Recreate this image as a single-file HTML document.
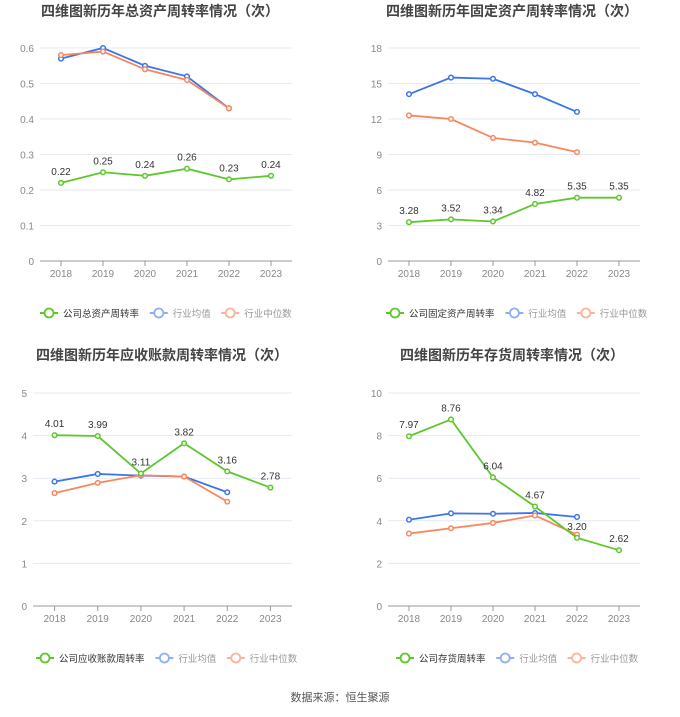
<!DOCTYPE html>
<html><head><meta charset="utf-8"><style>
body{margin:0;background:#fff;width:680px;height:712px;overflow:hidden;font-family:"Liberation Sans","Noto Sans CJK SC",sans-serif}
svg text{font-family:"Liberation Sans","Noto Sans CJK SC",sans-serif}
</style></head><body>
<svg id="s" width="680" height="712"></svg>
<script>
const years=['2018','2019','2020','2021','2022','2023'];
const c1Company=[0.22,0.25,0.24,0.26,0.23,0.24];
const c1Avg=[0.57,0.60,0.55,0.52,0.43];
const c1Med=[0.58,0.59,0.54,0.51,0.43];
const c1Ticks=[0,0.1,0.2,0.3,0.4,0.5,0.6];
const c2Company=[3.28,3.52,3.34,4.82,5.35,5.35];
const c2Avg=[14.1,15.5,15.4,14.1,12.6];
const c2Med=[12.3,12.0,10.4,10.0,9.2];
const c2Ticks=[0,3,6,9,12,15,18];
const c3Company=[4.01,3.99,3.11,3.82,3.16,2.78];
const c3Avg=[2.92,3.10,3.06,3.04,2.67];
const c3Med=[2.65,2.89,3.07,3.04,2.45];
const c3Ticks=[0,1,2,3,4,5];
const c4Company=[7.97,8.76,6.04,4.67,3.20,2.62];
const c4Avg=[4.05,4.35,4.33,4.37,4.18];
const c4Med=[3.40,3.65,3.90,4.25,3.35];
const c4Ticks=[0,2,4,6,8,10];

const NS='http://www.w3.org/2000/svg';
const svg=document.getElementById('s');
function mk(tag,attrs,parent,text){const e=document.createElementNS(NS,tag);for(const k in attrs)e.setAttribute(k,attrs[k]);if(text!==undefined)e.textContent=text;(parent||svg).appendChild(e);return e;}

function chart(o){
  const g=mk('g',{});
  
  
  const t=mk('text',{x:o.tx,y:o.ty,'text-anchor':'middle','font-size':14,'font-weight':'bold',fill:'#444'},g,o.title);
  
  
  const max=o.ticks[o.ticks.length-1];
  const y=v=>o.y0-(v/max)*(o.y0-o.yTop);
  const x=i=>o.x0+(o.x1-o.x0)/years.length*(i+0.5);
  o.ticks.forEach(v=>{
    if(v>0) mk('line',{x1:o.x0,x2:o.x1,y1:y(v),y2:y(v),stroke:'#e6e9f2','stroke-width':1},g);
    const l=mk('text',{x:o.x0-6,y:y(v)+4,'text-anchor':'end','font-size':10,fill:'#888'},g,String(v));
    
    
  });
  mk('line',{x1:o.x0,x2:o.x1,y1:o.y0,y2:o.y0,stroke:'#999','stroke-width':1},g);
  years.forEach((yr,i)=>{
    mk('line',{x1:x(i),x2:x(i),y1:o.y0,y2:o.y0+5,stroke:'#999'},g);
    const l=mk('text',{x:x(i),y:o.y0+16,'text-anchor':'middle','font-size':10,fill:'#888'},g,yr);
    
    
  });
  function series(vals,color,nm,labels){
    const p=mk('polyline',{points:vals.map((v,i)=>x(i)+','+y(v)).join(' '),fill:'none',stroke:color,'stroke-width':1.8},g);
    
    
    vals.forEach((v,i)=>{
      const c=mk('circle',{cx:x(i),cy:y(v),r:2.3,fill:'#fff',stroke:color,'stroke-width':1.5},g);
      
      
      if(labels){
        const l=mk('text',{x:x(i),y:y(v)-8,'text-anchor':'middle','font-size':10,fill:'#333'},g,v.toFixed(2));
        
        
      }
    });
  }
  series(o.avg,'#3c75e8','industry-average');
  series(o.med,'#f7875e','industry-median');
  series(o.comp,'#5cc82c','company',true);
  const items=[[o.legend,'#5cc82c','#333'],['行业均值','#8fb0f0','#999'],['行业中位数','#f9b49a','#999']];
  let lx=o.lx;
  items.forEach(it=>{
    const lg=mk('g',{},g);
    
    
    mk('line',{x1:lx,x2:lx+18,y1:o.ly,y2:o.ly,stroke:it[1],'stroke-width':2},lg);
    mk('circle',{cx:lx+9,cy:o.ly,r:4.5,fill:'#fff',stroke:it[1],'stroke-width':1.8},lg);
    mk('text',{x:lx+23,y:o.ly+4,'font-size':9.5,fill:it[2]},lg,it[0]);
    lx+=23+it[0].length*9.6+10;
  });
}
chart({name:'total-asset-turnover-chart',title:'四维图新历年总资产周转率情况（次）',tx:160,ty:16,x0:40,x1:292,y0:261,yTop:48,ticks:c1Ticks,comp:c1Company,avg:c1Avg,med:c1Med,legend:'公司总资产周转率',lx:40,ly:313});
chart({name:'fixed-asset-turnover-chart',title:'四维图新历年固定资产周转率情况（次）',tx:512,ty:16,x0:388,x1:640,y0:261,yTop:48,ticks:c2Ticks,comp:c2Company,avg:c2Avg,med:c2Med,legend:'公司固定资产周转率',lx:386,ly:313});
chart({name:'receivable-turnover-chart',title:'四维图新历年应收账款周转率情况（次）',tx:162,ty:360,x0:33,x1:292,y0:606,yTop:393,ticks:c3Ticks,comp:c3Company,avg:c3Avg,med:c3Med,legend:'公司应收账款周转率',lx:36,ly:658});
chart({name:'inventory-turnover-chart',title:'四维图新历年存货周转率情况（次）',tx:512,ty:360,x0:388,x1:640,y0:606,yTop:393,ticks:c4Ticks,comp:c4Company,avg:c4Avg,med:c4Med,legend:'公司存货周转率',lx:396,ly:658});
const src=mk('text',{x:340,y:701,'text-anchor':'middle','font-size':11,fill:'#555'},svg,'数据来源：恒生聚源');


</script>
</body></html>
